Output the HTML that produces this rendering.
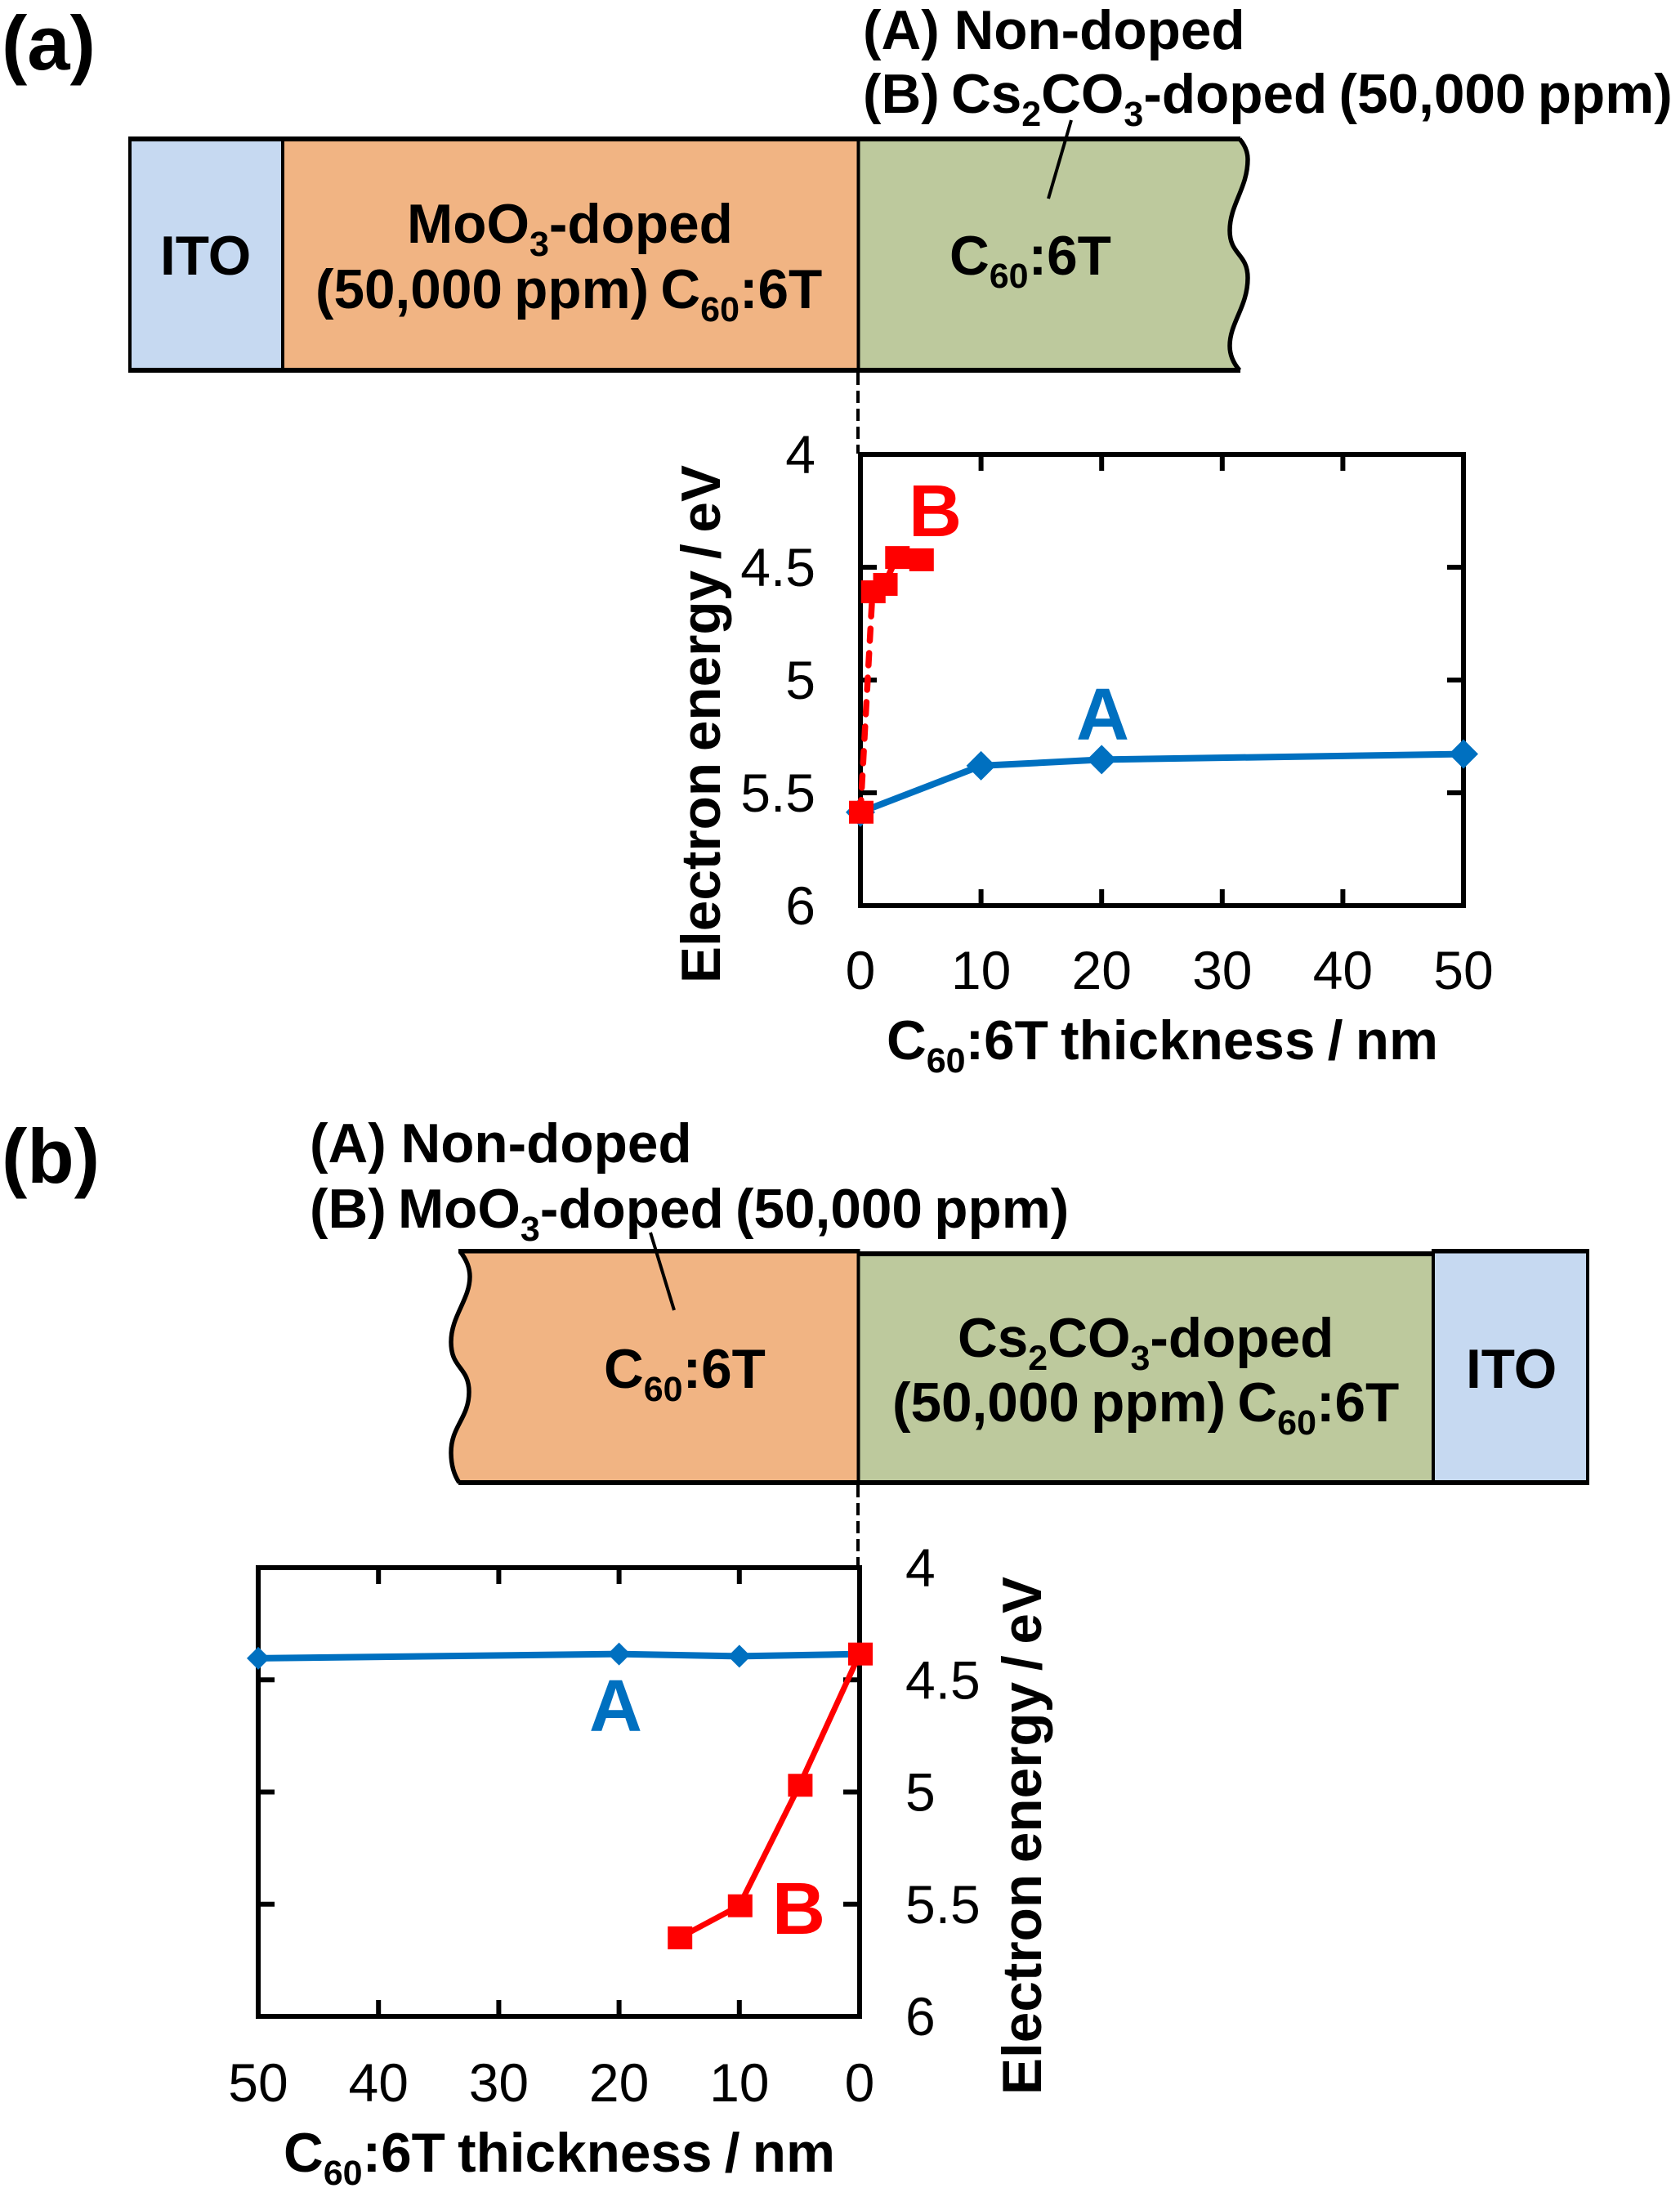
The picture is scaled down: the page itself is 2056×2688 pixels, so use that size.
<!DOCTYPE html>
<html lang="en">
<head>
<meta charset="utf-8">
<title>Electron energy vs C60:6T thickness</title>
<style>
  html, body { margin: 0; padding: 0; background: #fff; }
  svg { display: block; }
  text { font-family: "Liberation Sans", Arial, sans-serif; fill: #000; }
  .b { font-weight: bold; font-size: 67.5px; word-spacing: -4.5px; }
  .tick { font-size: 66px; }
  .sub { font-size: 43px; }
  .panel { font-weight: bold; font-size: 94px; }
  .series { font-weight: bold; font-size: 90px; }
</style>
</head>
<body>
<svg id="fig" xmlns="http://www.w3.org/2000/svg" width="2056" height="2688" viewBox="0 0 2056 2688">
  <rect width="2056" height="2688" fill="#fff"/>

  <!-- Panel (a) device stack -->
  <text class="panel" x="2" y="85">(a)</text>
  <text class="b" x="1056" y="60" style="word-spacing:-1px">(A) Non-doped</text>
  <text class="b" x="1056" y="138">(B) Cs<tspan class="sub" dy="16">2</tspan><tspan dy="-16">CO</tspan><tspan class="sub" dy="16">3</tspan><tspan dy="-16">-doped (50,000 ppm)</tspan></text>

  <rect x="157" y="170" width="188" height="282" fill="#C6D9F1"/>
  <rect x="345" y="170" width="705" height="282" fill="#F1B483"/>
  <path d="M1050 170H1517C1523 177 1527 185 1527 195C1527 230 1505 250 1505 282C1505 312 1527 310 1527 340C1527 375 1505 395 1505 423C1505 435 1510 445 1517 453H1050Z" fill="#BDC99D"/>
  <path d="M1517 170C1523 177 1527 185 1527 195C1527 230 1505 250 1505 282C1505 312 1527 310 1527 340C1527 375 1505 395 1505 423C1505 435 1510 445 1517 453" fill="none" stroke="#000" stroke-width="5.5"/>
  <rect x="157" y="167" width="1361" height="6"/>
  <rect x="157" y="450" width="1361" height="6"/>
  <rect x="157" y="167" width="4" height="289"/>
  <rect x="344" y="167" width="4" height="289"/>
  <rect x="1048.5" y="167" width="4" height="289"/>
  <line x1="1311" y1="147" x2="1283" y2="243" stroke="#000" stroke-width="4"/>
  <text class="b" x="196" y="336">ITO</text>
  <text class="b" x="498" y="297">MoO<tspan class="sub" dy="16">3</tspan><tspan dy="-16">-doped</tspan></text>
  <text class="b" x="386" y="377">(50,000 ppm) C<tspan class="sub" dy="16">60</tspan><tspan dy="-16">:6T</tspan></text>
  <text class="b" x="1162" y="336">C<tspan class="sub" dy="16">60</tspan><tspan dy="-16">:6T</tspan></text>
  <line x1="1050" y1="456" x2="1050" y2="555" stroke="#000" stroke-width="4" stroke-dasharray="15 7"/>

  <!-- Panel (b) device stack -->
  <text class="panel" x="2" y="1447">(b)</text>
  <text class="b" x="379" y="1422" style="word-spacing:-1px">(A) Non-doped</text>
  <text class="b" x="379" y="1502">(B) MoO<tspan class="sub" dy="16">3</tspan><tspan dy="-16">-doped (50,000 ppm)</tspan></text>

  <path d="M563 1531H1050V1814H562C556 1805 552 1792 552 1777C552 1745 574 1735 574 1703C574 1672 552 1675 552 1642C552 1610 575 1590 575 1562C575 1550 570 1540 563 1531Z" fill="#F1B483"/>
  <path d="M563 1531C570 1540 575 1550 575 1562C575 1590 552 1610 552 1642C552 1675 574 1672 574 1703C574 1735 552 1745 552 1777C552 1792 556 1805 562 1814" fill="none" stroke="#000" stroke-width="5.5"/>
  <rect x="1050" y="1534" width="703" height="280" fill="#BDC99D"/>
  <rect x="1753" y="1532" width="191" height="282" fill="#C6D9F1"/>
  <rect x="561" y="1528" width="489" height="5.5"/>
  <rect x="1050" y="1531" width="703" height="6"/>
  <rect x="1753" y="1528" width="192" height="5.5"/>
  <rect x="561" y="1811" width="1384" height="6"/>
  <rect x="1941" y="1528" width="4" height="289"/>
  <rect x="1752" y="1528" width="4" height="289"/>
  <rect x="1048.5" y="1528" width="4" height="289"/>
  <line x1="796" y1="1508" x2="825" y2="1603" stroke="#000" stroke-width="4"/>
  <text class="b" x="739" y="1698">C<tspan class="sub" dy="16">60</tspan><tspan dy="-16">:6T</tspan></text>
  <text class="b" x="1172" y="1660">Cs<tspan class="sub" dy="16">2</tspan><tspan dy="-16">CO</tspan><tspan class="sub" dy="16">3</tspan><tspan dy="-16">-doped</tspan></text>
  <text class="b" x="1092" y="1739">(50,000 ppm) C<tspan class="sub" dy="16">60</tspan><tspan dy="-16">:6T</tspan></text>
  <text class="b" x="1794" y="1698">ITO</text>
  <line x1="1050" y1="1817" x2="1050" y2="1918" stroke="#000" stroke-width="4" stroke-dasharray="15 7"/>

  <!-- Axis titles -->
  <text class="b" x="1085" y="1296" style="word-spacing:-3.5px">C<tspan class="sub" dy="16">60</tspan><tspan dy="-16">:6T thickness / nm</tspan></text>
  <text class="b" x="347" y="2657" style="word-spacing:-3.5px">C<tspan class="sub" dy="16">60</tspan><tspan dy="-16">:6T thickness / nm</tspan></text>
  <text class="b" style="word-spacing:-5px" transform="translate(881 1203) rotate(-90)">Electron energy / eV</text>
  <text class="b" style="word-spacing:-5px" transform="translate(1274 2563) rotate(-90)">Electron energy / eV</text>

  <g id="plot-a"></g>
  <g id="plot-b"></g>

  <text class="series" x="1317" y="905" style="fill:#0070C0">A</text>
  <text class="series" x="1112" y="656" style="fill:#FF0000">B</text>
  <text class="series" x="721" y="2118" style="fill:#0070C0">A</text>
  <text class="series" x="945" y="2366" style="fill:#FF0000">B</text>
</svg>

<script>
// Shared axis labels
const xTickValues = [0, 10, 20, 30, 40, 50];
const yTickValues = [4, 4.5, 5, 5.5, 6];
const yTickLabels = ['4', '4.5', '5', '5.5', '6'];

// Panel (a) data
const aThicknessA = [0, 10, 20, 50];
const aEnergyA = [5.586, 5.38, 5.353, 5.328];
const aThicknessB = [0, 1, 2, 3, 5];
const aEnergyB = [5.586, 4.609, 4.576, 4.457, 4.467];

// Panel (b) data
const bThicknessA = [50, 20, 10, 0];
const bEnergyA = [4.404, 4.385, 4.395, 4.385];
const bThicknessB = [0, 5, 10, 15];
const bEnergyB = [4.385, 4.97, 5.507, 5.65];

const NS = 'http://www.w3.org/2000/svg';
function mk(parent, tag, attrs) {
  const el = document.createElementNS(NS, tag);
  for (const k in attrs) el.setAttribute(k, attrs[k]);
  parent.appendChild(el);
  return el;
}

function drawPlot(cfg) {
  const g = document.getElementById(cfg.id);
  const x = v => cfg.x0 + (cfg.x50 - cfg.x0) * v / 50;
  const y = v => cfg.top + (cfg.bottom - cfg.top) * (v - 4) / 2;
  const L = Math.min(cfg.x0, cfg.x50), R = Math.max(cfg.x0, cfg.x50);

  const frame = mk(g, 'rect', { x: L, y: cfg.top, width: R - L, height: cfg.bottom - cfg.top, fill: 'none', stroke: '#000', 'stroke-width': 6 });
  
  

  xTickValues.forEach(v => {
    if (v !== 0 && v !== 50) {
      [[cfg.top, cfg.top + 20], [cfg.bottom, cfg.bottom - 20]].forEach(p => {
        const t = mk(g, 'line', { x1: x(v), x2: x(v), y1: p[0], y2: p[1], stroke: '#000', 'stroke-width': 6 });
        
        
      });
    }
    const lab = mk(g, 'text', { x: x(v), y: cfg.xLabelY, 'text-anchor': 'middle', class: 'tick' });
    lab.textContent = String(v);
    
    
  });

  yTickValues.forEach((v, i) => {
    if (v !== 4 && v !== 6) {
      [[L, L + 20], [R, R - 20]].forEach(p => {
        const t = mk(g, 'line', { x1: p[0], x2: p[1], y1: y(v), y2: y(v), stroke: '#000', 'stroke-width': 6 });
        
        
      });
    }
    const lab = mk(g, 'text', { x: cfg.yLabelX, y: y(v) + 23, 'text-anchor': cfg.yAnchor, class: 'tick' });
    lab.textContent = yTickLabels[i];
    
    
  });

  // Series A: blue line with diamonds
  const lineA = mk(g, 'polyline', {
    points: cfg.ax.map((v, i) => x(v) + ',' + y(cfg.ay[i])).join(' '),
    fill: 'none', stroke: '#0070C0', 'stroke-width': 8
  });
  
  
  cfg.ax.forEach((v, i) => {
    const cx = x(v), cy = y(cfg.ay[i]), r = cfg.diamond;
    const d = mk(g, 'polygon', {
      points: [cx - r, cy, cx, cy - r, cx + r, cy, cx, cy + r].join(' '),
      fill: '#0070C0'
    });
    
    
  });

  // Series B: red line with squares
  const lineB = mk(g, 'polyline', {
    points: cfg.bx.map((v, i) => x(v) + ',' + y(cfg.by[i])).join(' '),
    fill: 'none', stroke: '#FF0000', 'stroke-width': cfg.redWidth
  });
  if (cfg.dash) {
    lineB.setAttribute('stroke-dasharray', cfg.dash);
    lineB.setAttribute('stroke-linecap', 'round');
  }
  
  
  cfg.bx.forEach((v, i) => {
    const s = mk(g, 'rect', { x: x(v) - 15 + cfg.sqShift, y: y(cfg.by[i]) - 14, width: 30, height: 28, fill: '#FF0000' });
    
    
  });
}

drawPlot({
  id: 'plot-a', x0: 1053, x50: 1791, top: 556, bottom: 1108,
  xLabelY: 1210, yLabelX: 998, yAnchor: 'end',
  ax: aThicknessA, ay: aEnergyA, bx: aThicknessB, by: aEnergyB,
  diamond: 18, redWidth: 7.5, dash: '15 15', sqShift: 1
});
drawPlot({
  id: 'plot-b', x0: 1052, x50: 316, top: 1918, bottom: 2467,
  xLabelY: 2571, yLabelX: 1108, yAnchor: 'start',
  ax: bThicknessA, ay: bEnergyA, bx: bThicknessB, by: bEnergyB,
  diamond: 14, redWidth: 7, dash: null, sqShift: 1
});
</script>
</body>
</html>
